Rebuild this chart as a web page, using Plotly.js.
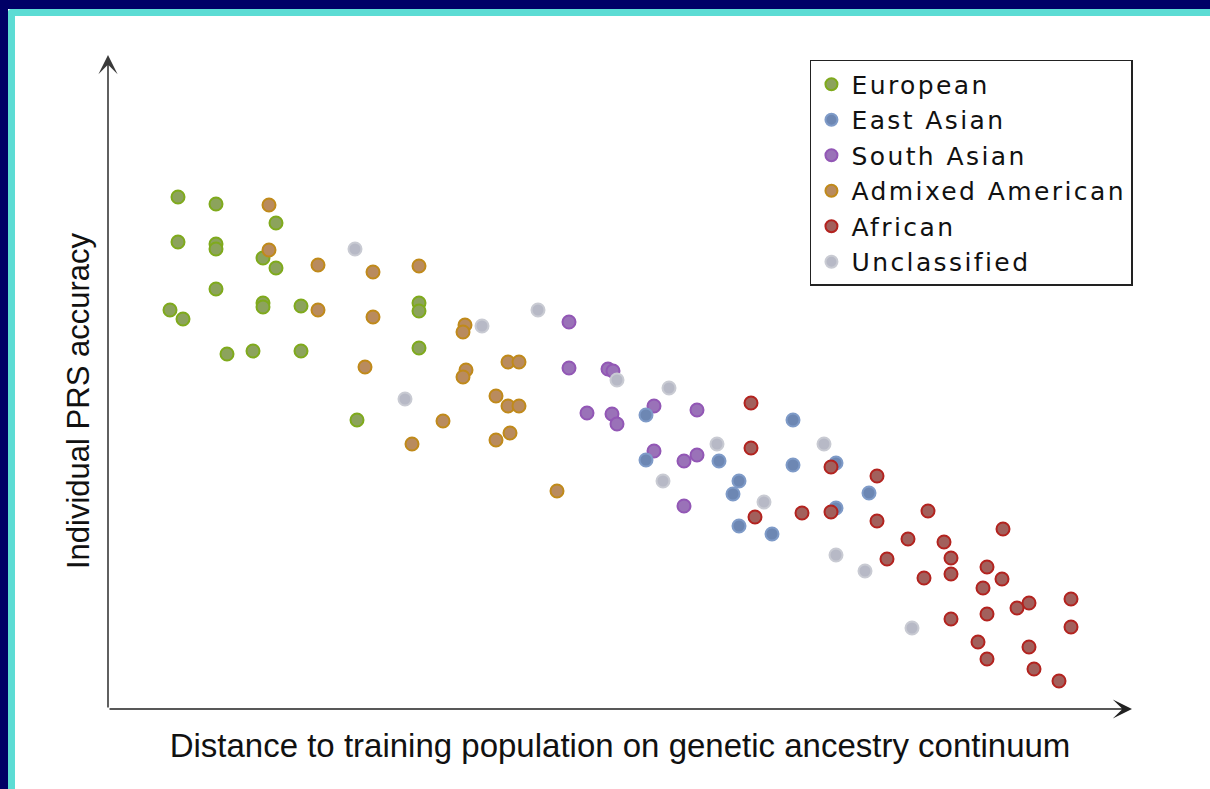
<!DOCTYPE html>
<html>
<head>
<meta charset="utf-8">
<script src="https://cdn.plot.ly/plotly-3.0.1.min.js"></script>
<style>
  html, body { margin:0; padding:0; background:#ffffff; width:1210px; height:789px; overflow:hidden; }
  .bar { position:absolute; }
  #chart { position:absolute; left:0; top:0; width:1210px; height:789px; }
  text.legendtext { letter-spacing: 2.4px; }
</style>
</head>
<body>
<div class="bar" style="left:0;top:0;width:1210px;height:9px;background:#000066;"></div>
<div class="bar" style="left:0;top:0;width:8px;height:789px;background:#000066;"></div>
<div class="bar" style="left:8px;top:9px;width:1202px;height:7px;background:#5cdcd4;border-top-left-radius:4px;"></div>
<div class="bar" style="left:8px;top:9px;width:7px;height:780px;background:#5cdcd4;border-top-left-radius:4px;"></div>
<div id="chart"></div>
<script>
// ---- data (arbitrary units: distance on ancestry continuum, individual PRS accuracy) ----
const europeanX = [0.70,1.08,1.68,0.70,1.08,1.08,1.55,1.68,1.08,0.62,0.75,1.55,1.55,1.93,3.11,3.11,3.11,1.19,1.45,1.93,2.49];
const europeanY = [5.12,5.05,4.86,4.67,4.65,4.60,4.51,4.41,4.20,3.99,3.90,4.06,4.02,4.03,4.06,3.98,3.61,3.55,3.58,3.58,2.89];

const admixedX = [1.61,1.61,2.10,2.65,3.11,2.10,2.65,3.57,3.55,2.57,3.58,3.55,4.00,4.11,3.88,4.00,4.11,3.35,4.02,3.88,3.04,4.49];
const admixedY = [5.04,4.59,4.44,4.37,4.43,3.99,3.92,3.84,3.77,3.42,3.39,3.32,3.47,3.47,3.13,3.03,3.03,2.88,2.76,2.69,2.65,2.18];

const southAsianX = [4.61,4.61,5.00,5.05,4.79,5.04,5.09,5.46,5.89,5.46,5.76,5.89,5.76];
const southAsianY = [3.87,3.41,3.40,3.38,2.96,2.95,2.85,3.03,2.99,2.58,2.48,2.54,2.03];

const eastAsianX = [5.38,6.85,5.38,6.11,6.85,7.28,6.31,6.25,7.61,7.28,6.31,6.64];
const eastAsianY = [2.94,2.89,2.49,2.48,2.44,2.46,2.28,2.15,2.16,2.01,1.83,1.75];

const africanX = [6.43,6.43,7.23,7.69,6.47,6.94,7.23,7.69,8.20,8.95,8.00,8.36,7.79,8.43,8.16,8.43,8.79,8.94,8.75,9.21,9.09,9.63,8.43,8.79,9.63,8.70,9.21,8.79,9.26,9.51];
const africanY = [3.06,2.61,2.42,2.33,1.92,1.96,1.97,1.88,1.98,1.80,1.70,1.67,1.50,1.51,1.31,1.35,1.42,1.30,1.21,1.06,1.01,1.10,0.90,0.95,0.82,0.67,0.62,0.50,0.40,0.28];

const unclassifiedX = [2.47,3.74,4.30,5.09,2.97,5.61,6.09,7.16,5.55,6.56,7.28,7.57,8.04];
const unclassifiedY = [4.60,3.83,3.99,3.29,3.10,3.21,2.65,2.65,2.28,2.07,1.54,1.38,0.81];

const groupNames = ["European","East Asian","South Asian","Admixed American","African","Unclassified"];

// ---- styles ----
function mk(name, x, y, fill, edge, rank) {
  return {
    type: "scatter", mode: "markers", name: name, x: x, y: y,
    legendrank: rank,
    marker: { size: 13, color: fill, line: { color: edge, width: 2 } },
    hoverinfo: "skip"
  };
}

const traces = [
  mk(groupNames[0], europeanX, europeanY, "#8ca35c", "#7faa1c", 1),
  mk(groupNames[2], southAsianX, southAsianY, "#9a72b8", "#9257b5", 3),
  mk(groupNames[1], eastAsianX, eastAsianY, "#6d87b3", "#7f9bc8", 2),
  mk(groupNames[3], admixedX, admixedY, "#b98b5e", "#c08a1a", 4),
  mk(groupNames[4], africanX, africanY, "#a2605c", "#b3231f", 5),
  mk(groupNames[5], unclassifiedX, unclassifiedY, "#b7b9c6", "#c9cbd3", 6)
];

const xTitleFont = { family: "Liberation Sans, Arial, sans-serif", size: 33, color: "#111111" };
const yTitleFont = { family: "Liberation Sans, Arial, sans-serif", size: 31, color: "#111111" };

const layout = {
  width: 1210, height: 789,
  paper_bgcolor: "rgba(0,0,0,0)",
  plot_bgcolor: "rgba(0,0,0,0)",
  margin: { l: 108, r: 78, t: 93, b: 80, pad: 0 },
  showlegend: true,
  legend: {
    x: 0.6855, y: 1.0536, xanchor: "left", yanchor: "top",
    bgcolor: "#ffffff", bordercolor: "#222222", borderwidth: 1.5,
    font: { family: "DejaVu Sans, sans-serif", size: 25, color: "#111111" },
    itemsizing: "constant", traceorder: "normal"
  },
  xaxis: {
    range: [0, 10.24], showgrid: false, zeroline: false, showline: false,
    showticklabels: false, ticks: "",
    title: { text: "Distance to training population on genetic ancestry continuum", font: xTitleFont, standoff: 24 }
  },
  yaxis: {
    range: [0, 6.16], showgrid: false, zeroline: false, showline: false,
    showticklabels: false, ticks: "",
    title: { text: "Individual PRS accuracy", font: yTitleFont, standoff: 8 }
  },
  annotations: [
    { xref: "paper", yref: "paper", x: 0, y: (709 - 55) / 616, axref: "pixel", ayref: "pixel",
      ax: 0, ay: 654, text: "", showarrow: true, arrowhead: 3, arrowsize: 2, arrowwidth: 1.6,
      arrowcolor: "#3a3a3a", standoff: 0 },
    { xref: "paper", yref: "paper", x: 1, y: 0, axref: "pixel", ayref: "pixel",
      ax: -1024, ay: 0, text: "", showarrow: true, arrowhead: 3, arrowsize: 2, arrowwidth: 1.6,
      arrowcolor: "#222222", standoff: 0 }
  ]
};

Plotly.newPlot("chart", traces, layout, { staticPlot: true, displayModeBar: false });
</script>
</body>
</html>
